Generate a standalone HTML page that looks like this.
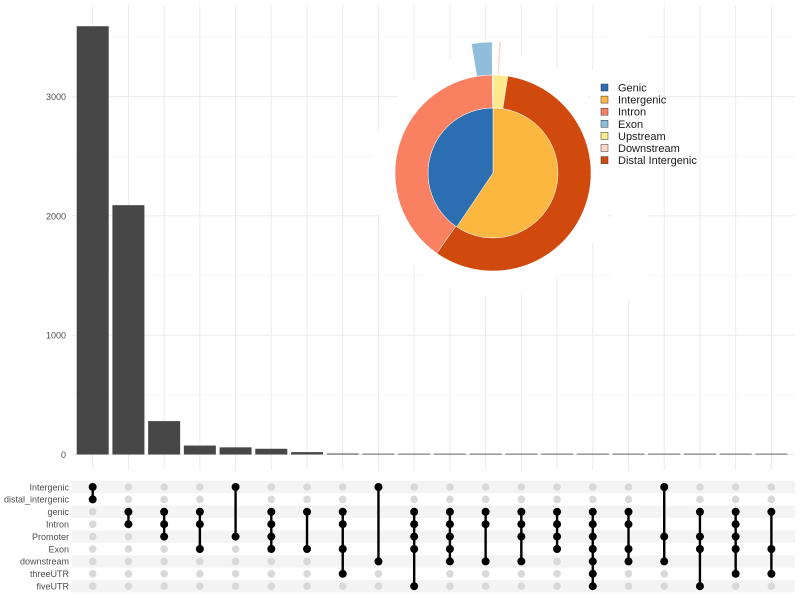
<!DOCTYPE html>
<html><head><meta charset="utf-8"><style>
body{margin:0;background:#fff}
svg{display:block;font-family:"Liberation Sans",Arial,sans-serif}
</style></head><body>
<svg id="s" width="800" height="600" xmlns="http://www.w3.org/2000/svg"></svg>
<script>
const s=document.getElementById('s');let h='';
const y0=454.5,k=0.1193;
const cx=i=>92.7+i*35.72;
[500,1500,2500,3500].forEach(v=>{const y=y0-v*k;h+=`<line x1="72" x2="795" y1="${y}" y2="${y}" stroke="#f3f3f3" stroke-width="0.7"/>`});
[0,1000,2000,3000].forEach(v=>{const y=y0-v*k;h+=`<line x1="72" x2="795" y1="${y}" y2="${y}" stroke="#ebebeb" stroke-width="1"/><text x="66" y="${y+3.5}" font-size="9" fill="#4d4d4d" text-anchor="end">${v}</text>`});
for(let i=0;i<20;i++){h+=`<line x1="${cx(i)}" x2="${cx(i)}" y1="5" y2="470" stroke="#ebebeb" stroke-width="1"/>`}
const vals=[3590,2090,280,75,60,48,20,8,5,4,3,3,2,2,1,1,1,1,1,1];
vals.forEach((v,i)=>{const hh=Math.max(v*k,0.8);h+=`<rect x="${cx(i)-16}" y="${y0-hh}" width="32" height="${hh}" fill="#474747"/>`});
const CX=493,CY=173;
h+=`<circle cx="${CX}" cy="${CY}" r="122" fill="#fff"/><rect x="590" y="70" width="60" height="110" fill="#fff"/><rect x="612" y="0" width="36" height="300" fill="#fff"/>`;
const P=(r,a)=>{a=a*Math.PI/180;return [CX+r*Math.sin(a),CY-r*Math.cos(a)]};
function sec(r1,r2,a1,a2,c){const L=(a2-a1)>180?1:0;const [x1,y1]=P(r2,a1),[x2,y2]=P(r2,a2),[x3,y3]=P(r1,a2),[x4,y4]=P(r1,a1);
let d=`M${x1},${y1}A${r2},${r2} 0 ${L} 1 ${x2},${y2}L${x3},${y3}`;
d+= r1>0?`A${r1},${r1} 0 ${L} 0 ${x4},${y4}Z`:'Z';
h+=`<path d="${d}" fill="${c}" stroke="#fff" stroke-width="0.5"/>`}
sec(0,65,0,214,'#fbb73f');sec(0,65,214,360,'#2b6fb2');
sec(65,98,0,8.7,'#fee98c');sec(65,98,8.7,215,'#d04a0e');sec(65,98,215,359.6,'#f98061');
sec(98,131,350.5,359.6,'#8fbedc');sec(98,132,2.6,3.6,'#fdd7c9');
const lg=[['Genic','#2b6fb2'],['Intergenic','#fbb73f'],['Intron','#f98061'],['Exon','#8fbedc'],['Upstream','#fee98c'],['Downstream','#fdd7c9'],['Distal Intergenic','#d04a0e']];
lg.forEach((l,i)=>{const y=84+i*12.1;h+=`<rect x="601" y="${y}" width="7" height="7" fill="${l[1]}" stroke="#333" stroke-width="0.5"/><text x="618" y="${y+7.5}" font-size="11" fill="#1a1a1a">${l[0]}</text>`});
const rows=['Intergenic','distal_intergenic','genic','Intron','Promoter','Exon','downstream','threeUTR','fiveUTR'];
const ry=i=>487+i*12.4;
rows.forEach((r,i)=>{if(i%2==0)h+=`<rect x="72" y="${ry(i)-6.2}" width="723" height="12.4" fill="#f4f4f4"/>`;h+=`<text x="69" y="${ry(i)+3.3}" font-size="9" fill="#4d4d4d" text-anchor="end">${r}</text>`});
const sets=[[0,1],[2,3],[2,3,4],[2,3,5],[0,4],[2,3,4,5],[2,5],[2,3,5,7],[0,6],[2,3,4,5,8],[2,3,4,5,6],[2,3,6],[2,3,4,6],[2,3,4,5],[2,3,4,5,6,7,8],[2,3,5,6],[0,4,6],[2,4,5,8],[2,3,4,5,7],[2,5,7]];
sets.forEach((st,i)=>{const x=cx(i);const a=Math.min(...st),b=Math.max(...st);for(let j=0;j<9;j++)if(j<a||j>b)h+=`<circle cx="${x}" cy="${ry(j)}" r="3.8" fill="#d9d9d9"/>`;
h+=`<line x1="${x}" x2="${x}" y1="${ry(a)}" y2="${ry(b)}" stroke="#000" stroke-width="2.4"/>`;
st.forEach(j=>h+=`<circle cx="${x}" cy="${ry(j)}" r="4" fill="#000"/>`)});
s.innerHTML=h;
</script>
</body></html>
